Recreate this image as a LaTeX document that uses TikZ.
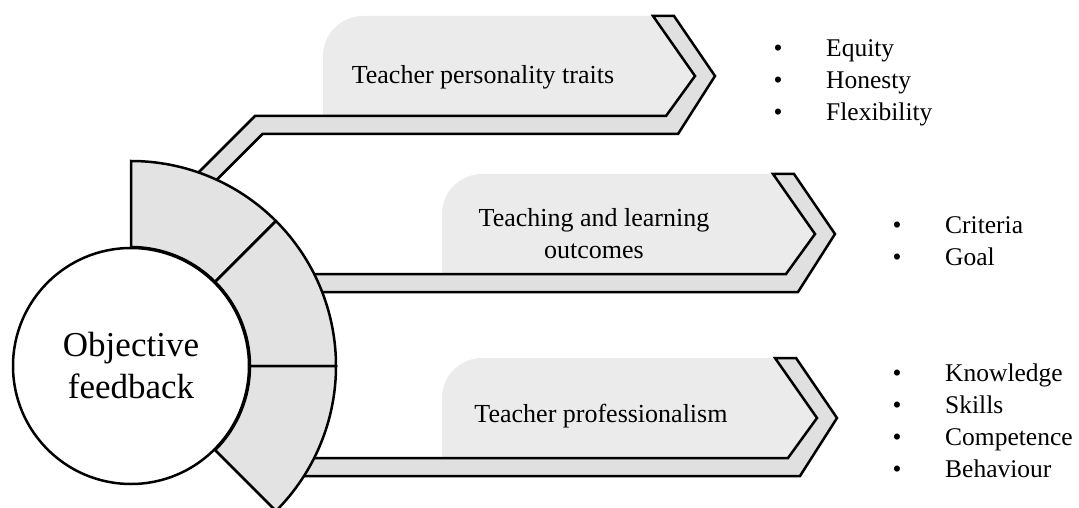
\documentclass[tikz,border=0pt]{standalone}
\usepackage{fontspec}
\setmainfont{Liberation Serif}
\begin{document}
\begin{tikzpicture}[x=1pt,y=1pt,
  outline/.style={draw=black, line width=2.5pt, line join=miter},
  band/.style={outline, fill=black!12},
  tag/.style={fill=black!8},
  sector/.style={outline, fill=black!11},
  label/.style={font=\fontsize{26}{32}\selectfont, align=center, inner sep=0pt},
  item/.style={font=\fontsize{25.5}{32}\selectfont, anchor=base west, inner sep=0pt},
  dot/.style={font=\fontsize{25.5}{32}\selectfont, anchor=base, inner sep=0pt}]
\useasboundingbox (0,0) rectangle (1079,507);
\clip (0,0) rectangle (1079,507);

% label panels behind the bands
\fill[tag] (323,391) -- (323,451) .. controls (323,473) and (341,491) .. (363,491)
  -- (653,491) -- (695,431) -- (666,391) -- cycle;
\fill[tag] (442,233) -- (442,293) .. controls (442,315) and (460,333) .. (482,333)
  -- (773,333) -- (815,273) -- (786,233) -- cycle;
\fill[tag] (442,49) -- (442,109) .. controls (442,131) and (460,149) .. (482,149)
  -- (775,149) -- (817,89) -- (788,49) -- cycle;

% bands ending in a chevron
\filldraw[band] (190,326) -- (255,391) -- (666,391) -- (695,431) -- (653,491)
  -- (674,491) -- (715,431) -- (678,373) -- (262.5,373) -- (197.5,308) -- cycle;
\filldraw[band] (290,233) -- (786,233) -- (815,273) -- (773,333)
  -- (794,333) -- (835,273) -- (798,215) -- (290,215) -- cycle;
\filldraw[band] (290,49) -- (788,49) -- (817,89) -- (775,149)
  -- (796,149) -- (837,89) -- (800,31) -- (290,31) -- cycle;

% three ring sectors round the hub
\begin{scope}[shift={(131,141)}]
  \filldraw[sector] (90:205) arc[start angle=90, end angle=45, radius=205]
    -- (45:119) arc[start angle=45, end angle=90, radius=119] -- cycle;
  \filldraw[sector] (45:205) arc[start angle=45, end angle=0, radius=205]
    -- (0:119) arc[start angle=0, end angle=45, radius=119] -- cycle;
  \filldraw[sector] (0:205) arc[start angle=0, end angle=-45, radius=205]
    -- (-45:119) arc[start angle=-45, end angle=0, radius=119] -- cycle;
\end{scope}

% hub
\node[circle, outline, fill=white, minimum size=236pt, inner sep=0pt,
  font=\fontsize{35}{42}\selectfont, align=center] (hub) at (131,141) {Objective\\feedback};

% band labels
\node[label, anchor=base] (traits) at (483,423) {Teacher personality traits};
\node[label] (outcomes) at (594,273) {Teaching and learning\\outcomes};
\node[label, anchor=base] (prof) at (601,85) {Teacher professionalism};

% bullet lists
\node[dot] (d11) at (778,450) {\textbullet};
\node[item] (equity) at (826,450) {Equity};
\node[dot] (d12) at (778,418) {\textbullet};
\node[item] (honesty) at (826,418) {Honesty};
\node[dot] (d13) at (778,386) {\textbullet};
\node[item] (flex) at (826,386) {Flexibility};

\node[dot] (d21) at (897,274) {\textbullet};
\node[item] (criteria) at (945,274) {Criteria};
\node[dot] (d22) at (897,242) {\textbullet};
\node[item] (goal) at (945,242) {Goal};

\node[dot] (d31) at (897,126) {\textbullet};
\node[item] (knowledge) at (945,126) {Knowledge};
\node[dot] (d32) at (897,94) {\textbullet};
\node[item] (skills) at (945,94) {Skills};
\node[dot] (d33) at (897,62) {\textbullet};
\node[item] (competence) at (945,62) {Competence};
\node[dot] (d34) at (897,30) {\textbullet};
\node[item] (behaviour) at (945,30) {Behaviour};
\end{tikzpicture}
\end{document}
